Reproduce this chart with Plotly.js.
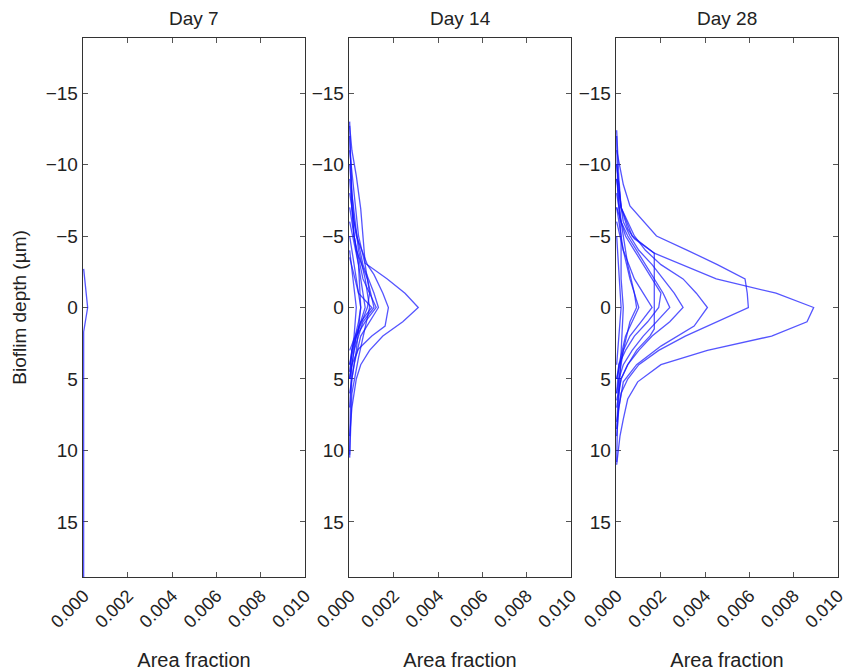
<!DOCTYPE html>
<html>
<head>
<meta charset="utf-8">
<script src="https://cdn.plot.ly/plotly-3.0.1.min.js"></script>
<style>html,body{margin:0;padding:0;background:#fff;}#chart{width:852px;height:671px;}</style>
</head>
<body>
<div id="chart"></div>
<script>
// ---- data (depth in µm, area fraction) ----
const panelTitles = ["Day 7", "Day 14", "Day 28"];
const xTickVals = [0, 0.002, 0.004, 0.006, 0.008, 0.010];
const xTickText = ["0.000", "0.002", "0.004", "0.006", "0.008", "0.010"];
const yTickVals = [-15, -10, -5, 0, 5, 10, 15];

const day7Depth = [
  [-2.7, 0, 1.7, 18.85]
];
const day7Fraction = [
  [0, 0.00018, 0, 0]
];

const day14Depth = [
  [-12.7, -11, -9.2, -6.9, -3.1, -2, -1, 0, 1, 2, 3, 4, 5, 7, 9],
  [-8, -5, -3, -2.3, -1, 0, 1.3, 2, 2.9, 4, 5],
  [-10, -6, -3, -1, 0, 1, 2, 4, 6],
  [-7, -4, -2, 0, 1, 3, 5],
  [-11, -5, -3, -1, 0, 2, 4, 7],
  [-6, -3, -1, 0, 2, 4],
  [-5, -2, 0, 1, 3, 5],
  [-4, -1, 0, 2, 4],
  [-9, -5, -2, 0, 1, 2, 3, 4.5],
  [-12, -8, -4, -2, 0, 2, 3.5, 6, 10.5],
  [-13, -10, -7, -5, -3, 0, 3, 5, 7, 10.3],
  [-3.5, -1, 0, 1, 3]
];
const day14Fraction = [
  [0, 0.0001, 0.0003, 0.0005, 0.0007, 0.0017, 0.0025, 0.0031, 0.0024, 0.0015, 0.0009, 0.0005, 0.0003, 0.0001, 0],
  [0, 0.0003, 0.0008, 0.0011, 0.0015, 0.00175, 0.0016, 0.0010, 0.0004, 0.0001, 0],
  [0, 0.0002, 0.0006, 0.0011, 0.0013, 0.0009, 0.0005, 0.0002, 0],
  [0, 0.0003, 0.0008, 0.0011, 0.0006, 0.0002, 0],
  [0, 0.0004, 0.0007, 0.0009, 0.0008, 0.0003, 0.0001, 0],
  [0, 0.0004, 0.0006, 0.0007, 0.0003, 0],
  [0, 0.0003, 0.0005, 0.0004, 0.0001, 0],
  [0, 0.0002, 0.0003, 0.0002, 0],
  [0, 0.0002, 0.0006, 0.0012, 0.0007, 0.0003, 0.0001, 0],
  [0, 0.0001, 0.0004, 0.0007, 0.0009, 0.0006, 0.0004, 0.0001, 0],
  [0, 0.00005, 0.0001, 0.0002, 0.0004, 0.0005, 0.0003, 0.0001, 0.00003, 0],
  [0, 0.0004, 0.0010, 0.0005, 0]
];

const day28Depth = [
  [-12.4, -9, -7, -5, -3.8, -2, -1, 0, 1, 2, 3, 4, 5.2, 6.4, 7.8, 9, 11],
  [-11, -8.6, -7.1, -5, -4, -3, -2, -1, 0, 1, 2, 3, 4, 5, 6, 8],
  [-10, -7, -5, -4, -3, -2, -1, 0, 1.3, 2.7, 4, 5.2, 7, 9],
  [-9, -6, -5, -4, -3, -2, -1, 0, 1, 2, 3, 4, 5, 6.5],
  [-8, -6, -5, -4, -3, -2, -1, 0, 1, 2, 3, 4, 5, 6],
  [-7, -5, -4, -3, -2, -1, 0, 1, 2, 3, 4, 5],
  [-10, -7, -5.5, -4.8, -3.8, -2, 0, 1.5, 2, 3, 4, 5, 7],
  [-6, -4, -2, -1, 0, 1, 2, 3, 5],
  [-7, -4, -2, 0, 1, 2, 4, 6],
  [-5, -2, 0, 2, 4],
  [-12, -8, -5, -2, 0, 3, 6, 8.5, 10.8],
  [-9, -6, -3, -1, 0, 1, 3, 5, 8.5]
];
const day28Fraction = [
  [0, 0.0001, 0.0002, 0.0007, 0.0017, 0.0045, 0.0072, 0.0089, 0.0086, 0.0070, 0.0041, 0.0020, 0.00095, 0.0005, 0.0003, 0.00015, 0],
  [0, 0.0003, 0.0006, 0.0018, 0.0032, 0.00455, 0.0058, 0.0059, 0.00595, 0.0045, 0.0031, 0.0019, 0.0010, 0.0005, 0.0002, 0],
  [0, 0.0002, 0.0008, 0.0013, 0.0020, 0.0030, 0.0036, 0.0041, 0.0035, 0.0020, 0.0009, 0.0003, 0.0001, 0],
  [0, 0.0003, 0.0006, 0.0010, 0.0016, 0.0021, 0.0026, 0.0030, 0.0024, 0.0016, 0.0010, 0.0005, 0.0002, 0],
  [0, 0.0002, 0.0005, 0.0009, 0.0013, 0.0017, 0.0021, 0.0024, 0.0018, 0.0012, 0.0007, 0.0003, 0.0001, 0],
  [0, 0.0004, 0.0008, 0.0012, 0.0016, 0.0020, 0.0019, 0.0014, 0.0008, 0.0004, 0.0001, 0],
  [0, 0.0002, 0.0005, 0.0008, 0.0017, 0.0017, 0.0017, 0.0017, 0.0015, 0.0009, 0.0005, 0.0002, 0],
  [0, 0.0003, 0.0008, 0.0012, 0.0016, 0.0011, 0.0006, 0.0003, 0],
  [0, 0.0003, 0.0006, 0.0010, 0.0007, 0.0004, 0.0001, 0],
  [0, 0.0001, 0.0002, 0.0001, 0],
  [0, 0.00005, 0.0002, 0.0002, 0.0003, 0.0002, 0.0001, 0.00003, 0],
  [0, 0.0002, 0.0005, 0.0008, 0.0009, 0.0006, 0.0003, 0.0001, 0]
];

// ---- build traces ----
const panels = [
  {depth: day7Depth, frac: day7Fraction},
  {depth: day14Depth, frac: day14Fraction},
  {depth: day28Depth, frac: day28Fraction}
];
const traces = [];
panels.forEach((p, i) => {
  const sfx = i === 0 ? "" : String(i + 1);
  p.depth.forEach((d, j) => {
    traces.push({
      type: "scatter", mode: "lines",
      x: p.frac[j], y: d,
      xaxis: "x" + sfx, yaxis: "y" + sfx,
      line: {color: "rgba(20,20,255,0.72)", width: 1.3},
      hoverinfo: "skip", showlegend: false
    });
  });
});

const FONT = "Liberation Sans, Arial, Helvetica, sans-serif";
const W = 852, H = 671;
const xDomains = [[83 / W, 305 / W], [349 / W, 571 / W], [616 / W, 838 / W]];
const yDomain = [1 - 577 / H, 1 - 38 / H];

const layout = {
  width: W, height: H,
  margin: {l: 0, r: 0, t: 0, b: 0},
  paper_bgcolor: "#fff", plot_bgcolor: "#fff",
  showlegend: false,
  font: {family: FONT, color: "#222", size: 18},
  annotations: []
};

xDomains.forEach((dom, i) => {
  const sfx = i === 0 ? "" : String(i + 1);
  layout["xaxis" + sfx] = {
    domain: dom, anchor: "y" + sfx,
    range: [-0.00003, 0.010],
    tickvals: xTickVals, ticktext: xTickText, tickangle: -45,
    ticks: "inside", ticklen: 5, tickwidth: 1, tickcolor: "#555",
    showline: true, linecolor: "#333", linewidth: 1.3, mirror: "ticks",
    showgrid: false, zeroline: false, layer: "below traces",
    tickfont: {family: FONT, size: 18, color: "#222"},
    title: {text: "Area fraction", font: {family: FONT, size: 20, color: "#222"}, standoff: 22}
  };
  layout["yaxis" + sfx] = {
    domain: yDomain, anchor: "x" + sfx,
    range: [18.85, -18.85],
    tickvals: yTickVals,
    ticks: "inside", ticklen: 5, tickwidth: 1, tickcolor: "#555",
    showline: true, linecolor: "#333", linewidth: 1.3, mirror: "ticks",
    showgrid: false, zeroline: false, layer: "below traces",
    tickfont: {family: FONT, size: 19, color: "#222"},
    title: i === 0 ? {text: "Bioflim depth (µm)", font: {family: FONT, size: 19, color: "#222"}, standoff: 14} : {text: ""}
  };
  layout.annotations.push({
    text: panelTitles[i], xref: "paper", yref: "paper",
    x: (dom[0] + dom[1]) / 2, y: 1 - 18 / H,
    xanchor: "center", yanchor: "middle", showarrow: false,
    font: {family: FONT, size: 19, color: "#222"}
  });
});

Plotly.newPlot("chart", traces, layout, {staticPlot: true, displayModeBar: false});
</script>
</body>
</html>
